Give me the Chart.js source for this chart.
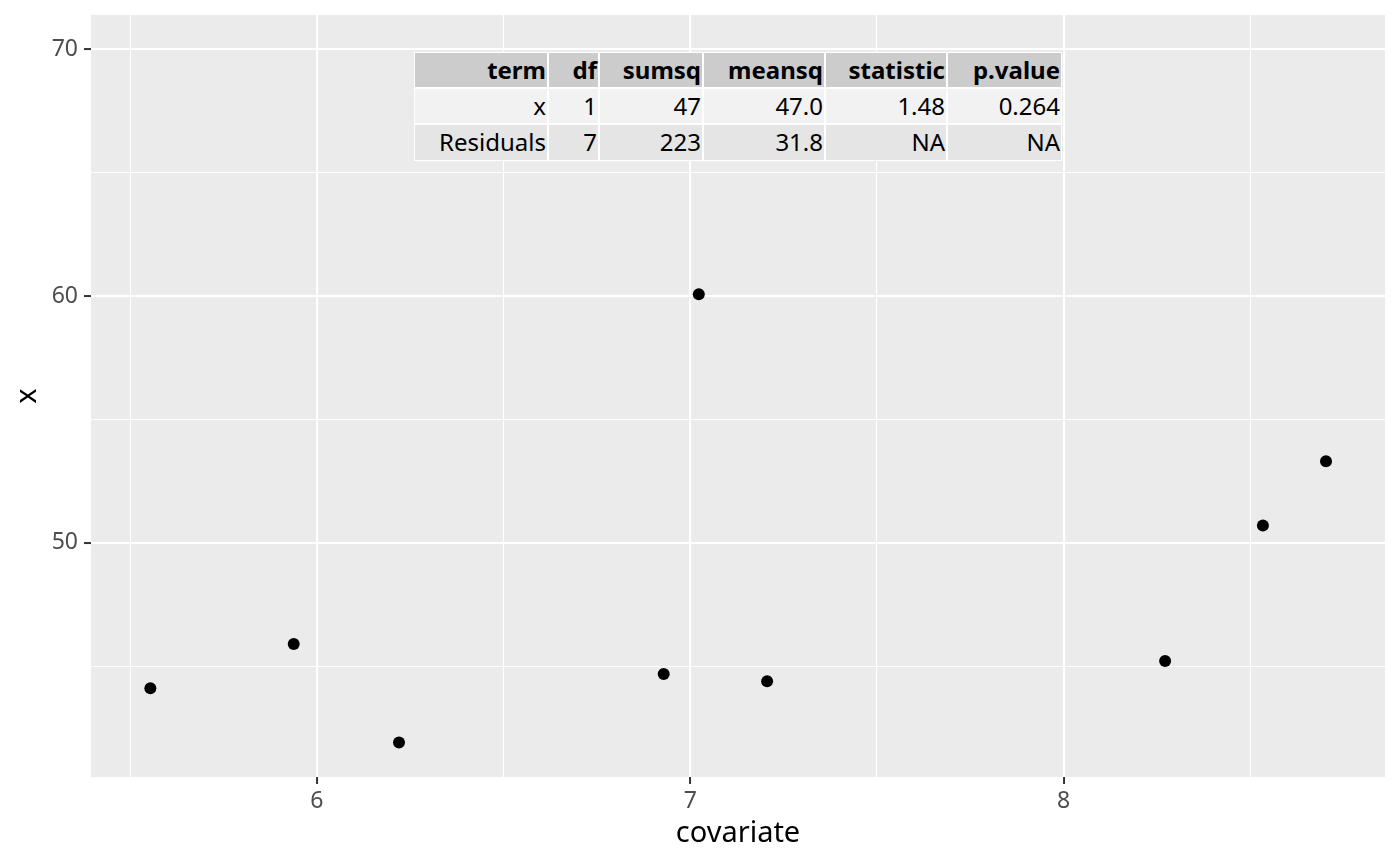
<!DOCTYPE html>
<html>
<head>
<meta charset="utf-8">
<script src="https://cdn.jsdelivr.net/npm/chart.js@4"></script>
<style>
  body { margin: 0; background: #fff; font-family: "Noto Sans", sans-serif; }
  #wrap { position: relative; width: 1400px; height: 866px; }
  #anova {
    position: absolute; left: 414px; top: 52px;
    display: grid; gap: 2px; padding: 1px; background: #fff;
    grid-template-columns: 132px 49px 102px 120px 120px 113px;
    grid-template-rows: 34px 34px 35px;
    font-size: 24px; color: #000;
  }
  #anova div { text-align: right; padding-right: 1px; line-height: 34px; white-space: nowrap; }
  #anova .head { background: #cccccc; font-weight: bold; }
  #anova .r0 { background: #f2f2f2; }
  #anova .r1 { background: #e5e5e5; }
</style>
</head>
<body>
<div id="wrap">
  <canvas id="scatter" width="1400" height="866"></canvas>
  <div id="anova"></div>
</div>
<script>
// data
var covariate = [5.554, 5.938, 6.220, 6.929, 7.023, 7.206, 8.272, 8.534, 8.703];
var xvals = [44.10, 45.89, 41.90, 44.68, 60.08, 44.38, 45.20, 50.70, 53.30];
var xTicks = [5.5, 6, 6.5, 7, 7.5, 8, 8.5];
var yTicks = [45, 50, 55, 60, 65, 70];

// anova table
var tableHeader = ['term', 'df', 'sumsq', 'meansq', 'statistic', 'p.value'];
var tableRows = [
  ['x', '1', '47', '47.0', '1.48', '0.264'],
  ['Residuals', '7', '223', '31.8', 'NA', 'NA']
];

var anova = document.getElementById('anova');
tableHeader.forEach(function (h) {
  var cell = document.createElement('div');
  cell.className = 'head';
  cell.textContent = h;
  anova.appendChild(cell);
});
for (i = 0; i < tableRows.length; i++) {
  tableRows[i].forEach(function (v) {
    var cell = document.createElement('div');
    cell.className = 'r' + i;
    cell.textContent = v;
    anova.appendChild(cell);
  });
}

var points = [];
for (i = 0; i < covariate.length; i++) {
  points.push({ x: covariate[i], y: xvals[i] });
}

// grey panel behind the grid
var panelBg = {
  id: 'panelBg',
  beforeDraw: function (chart) {
    var a = chart.chartArea;
    var c = chart.ctx;
    c.save();
    c.fillStyle = '#ebebeb';
    c.fillRect(a.left, a.top, a.right - a.left, a.bottom - a.top);
    c.restore();
  }
};

function isMajorX(ctx) { return ctx.tick && Number.isInteger(ctx.tick.value); }
function isMajorY(ctx) { return ctx.tick && ctx.tick.value % 10 === 0; }

var ctx = document.getElementById('scatter').getContext('2d');
var myChart = new Chart(ctx, {
  type: 'scatter',
  data: {
    datasets: [{
      data: points,
      backgroundColor: '#000',
      borderWidth: 0,
      pointRadius: 6,
      pointHoverRadius: 6
    }]
  },
  options: {
    responsive: false,
    animation: false,
    devicePixelRatio: 1,
    layout: { padding: { top: 15, right: 15, left: 0, bottom: 0 } },
    plugins: { legend: { display: false }, tooltip: { enabled: false } },
    scales: {
      x: {
        type: 'linear',
        min: 5.395,
        max: 8.861,
        afterBuildTicks: function (scale) {
          scale.ticks = xTicks.map(function (v) { return { value: v }; });
        },
        afterFit: function (scale) {
          scale.height = 89;
          scale.paddingLeft = 0;
          scale.paddingRight = 0;
        },
        border: { display: false },
        grid: {
          color: '#ffffff',
          lineWidth: function (c) { return isMajorX(c) ? 2.1 : 1.05; },
          drawTicks: true,
          tickLength: 7,
          tickWidth: 2,
          tickColor: function (c) { return isMajorX(c) ? '#333333' : 'rgba(0,0,0,0)'; }
        },
        ticks: {
          padding: 4,
          maxRotation: 0,
          autoSkip: false,
          color: '#4d4d4d',
          font: { family: 'Noto Sans', size: 23 },
          callback: function (v) { return Number.isInteger(v) ? String(v) : ''; }
        },
        title: {
          display: true,
          text: 'covariate',
          color: '#000',
          font: { family: 'Noto Sans', size: 29, lineHeight: 1 },
          padding: { top: 0, bottom: 18 }
        }
      },
      y: {
        type: 'linear',
        min: 40.5,
        max: 71.4,
        afterBuildTicks: function (scale) {
          scale.ticks = yTicks.map(function (v) { return { value: v }; });
        },
        afterFit: function (scale) {
          scale.width = 91;
          // labels never sit at the panel edge, so no extra room is needed
          scale.paddingTop = 0;
          scale.paddingBottom = 0;
        },
        border: { display: false },
        grid: {
          color: '#ffffff',
          lineWidth: function (c) { return isMajorY(c) ? 2.1 : 1.05; },
          drawTicks: true,
          tickLength: 7,
          tickWidth: 2,
          tickColor: function (c) { return isMajorY(c) ? '#333333' : 'rgba(0,0,0,0)'; }
        },
        ticks: {
          padding: 6,
          autoSkip: false,
          color: '#4d4d4d',
          font: { family: 'Noto Sans', size: 23 },
          callback: function (v) { return v % 10 === 0 ? String(v) : ''; }
        },
        title: {
          display: true,
          text: 'x',
          color: '#000',
          font: { family: 'Noto Sans', size: 29, lineHeight: 1 },
          padding: { top: 13, bottom: 0 }
        }
      }
    }
  },
  plugins: [panelBg]
});
</script>
</body>
</html>
